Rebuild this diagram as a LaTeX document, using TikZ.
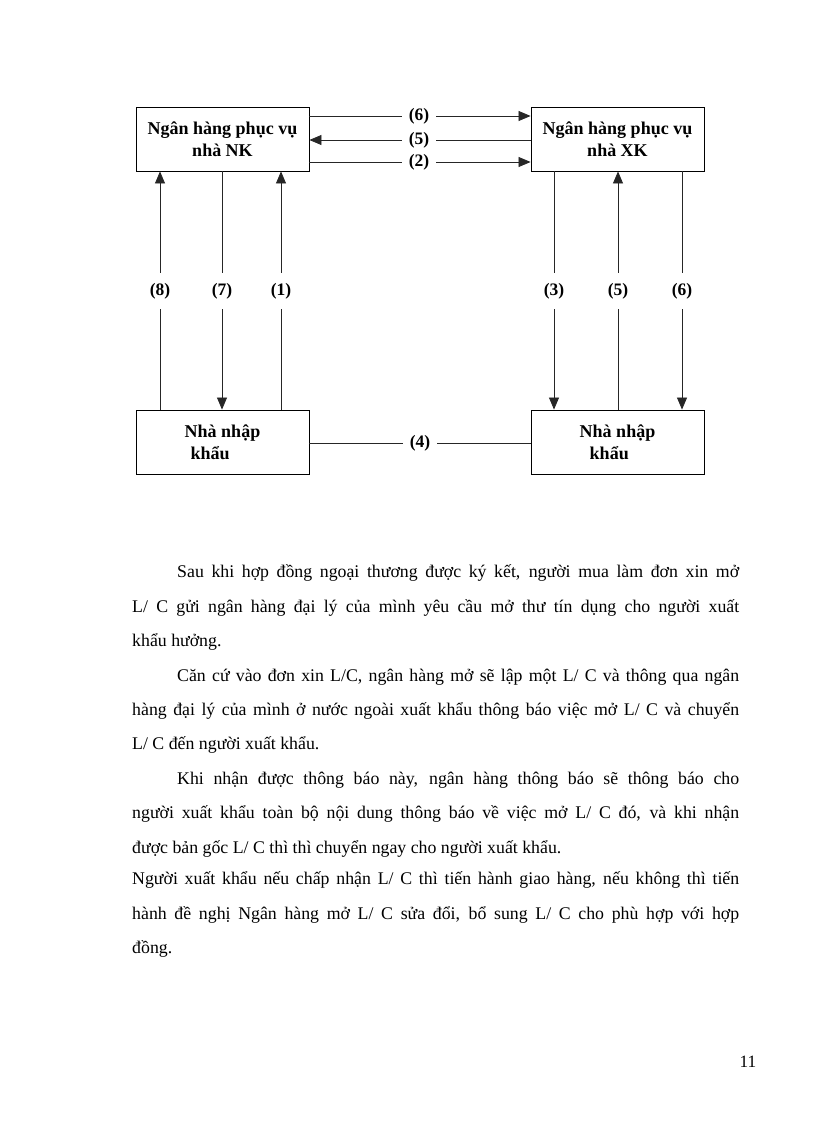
\documentclass[tikz,border=0pt]{standalone}
\usepackage{fontspec}
\setmainfont{Liberation Serif}
\usetikzlibrary{arrows.meta}
\begin{document}
\begin{tikzpicture}[x=1pt,y=1pt,
  box/.style={draw=black,line width=0.9pt,minimum width=173pt,minimum height=64pt,inner sep=0pt,
    font=\fontsize{18}{22}\selectfont\bfseries,align=center},
  hlab/.style={inner xsep=7pt,inner ysep=1pt,font=\fontsize{17.5}{20}\selectfont\bfseries},
  vlab/.style={inner xsep=2pt,inner ysep=10pt,font=\fontsize{17.5}{20}\selectfont\bfseries},
  conn/.style={line width=0.8pt,draw=black!85},
  arr/.style={conn,-{Triangle[length=12pt,width=10pt]}},
  txt/.style={anchor=base west,inner sep=0pt,font=\fontsize{17.8}{20}\selectfont}]
\useasboundingbox (0,0) rectangle (816,-1123);
\fill[white] (0,0) rectangle (816,-1123);
% boxes
\node[box] (nk) at (222.5,-139) {Ngân hàng phục vụ\\nhà NK};
\node[box] (xk) at (617.5,-139) {Ngân hàng phục vụ\\nhà XK};
\node[box,align=left] (bl) at (222.5,-442) {Nhà nhập\\\hspace{6pt}khẩu};
\node[box,align=left] (br) at (617.5,-442) {Nhà nhập\\\hspace{10pt}khẩu};
% horizontal labels
\node[hlab] (h6) at (419,-116) {(6)};
\node[hlab] (h5) at (419,-140) {(5)};
\node[hlab] (h2) at (419,-162) {(2)};
\node[hlab] (h4) at (420,-443) {(4)};
\draw[conn] (nk.east |- h6) -- (h6);
\draw[arr] (h6) -- (xk.west |- h6);
\draw[conn] (xk.west |- h5) -- (h5);
\draw[arr] (h5) -- (nk.east |- h5);
\draw[conn] (nk.east |- h2) -- (h2);
\draw[arr] (h2) -- (xk.west |- h2);
\draw[conn] (bl.east |- h4) -- (h4);
\draw[conn] (h4) -- (br.west |- h4);
% vertical labels
\node[vlab] (v8) at (160,-291) {(8)};
\node[vlab] (v7) at (222,-291) {(7)};
\node[vlab] (v1) at (281,-291) {(1)};
\node[vlab] (v3) at (554,-291) {(3)};
\node[vlab] (v5) at (618,-291) {(5)};
\node[vlab] (v6) at (682,-291) {(6)};
% left side
\draw[conn] (v8 |- bl.north) -- (v8);
\draw[arr] (v8) -- (v8 |- nk.south);
\draw[conn] (v7 |- nk.south) -- (v7);
\draw[arr] (v7) -- (v7 |- bl.north);
\draw[conn] (v1 |- bl.north) -- (v1);
\draw[arr] (v1) -- (v1 |- nk.south);
% right side
\draw[conn] (v3 |- xk.south) -- (v3);
\draw[arr] (v3) -- (v3 |- br.north);
\draw[conn] (v5 |- br.north) -- (v5);
\draw[arr] (v5) -- (v5 |- xk.south);
\draw[conn] (v6 |- xk.south) -- (v6);
\draw[arr] (v6) -- (v6 |- br.north);
% text
\node[txt] (t1) at (177,-577) {\hbox to 562pt{Sau khi hợp đồng ngoại thương được ký kết, người mua làm đơn xin mở}};
\node[txt] (t2) at (132,-612) {\hbox to 607pt{L/ C gửi ngân hàng đại lý của mình yêu cầu mở thư tín dụng cho người xuất}};
\node[txt] (t3) at (132,-646) {khẩu hưởng.};
\node[txt] (t4) at (177,-681) {\hbox to 562pt{Căn cứ vào đơn xin L/C, ngân hàng mở sẽ lập một L/ C và thông qua ngân}};
\node[txt] (t5) at (132,-715) {\hbox to 607pt{hàng đại lý của mình ở nước ngoài xuất khẩu thông báo việc mở L/ C và chuyển}};
\node[txt] (t6) at (132,-749) {L/ C đến người xuất khẩu.};
\node[txt] (t7) at (177,-784) {\hbox to 562pt{Khi nhận được thông báo này, ngân hàng thông báo sẽ thông báo cho}};
\node[txt] (t8) at (132,-818) {\hbox to 607pt{người xuất khẩu toàn bộ nội dung thông báo về việc mở L/ C đó, và khi nhận}};
\node[txt] (t9) at (132,-853) {được bản gốc L/ C thì thì chuyển ngay cho người xuất khẩu.};
\node[txt] (t10) at (132,-884) {\hbox to 607pt{Người xuất khẩu nếu chấp nhận L/ C thì tiến hành giao hàng, nếu không thì tiến}};
\node[txt] (t11) at (132,-919) {\hbox to 607pt{hành đề nghị Ngân hàng mở L/ C sửa đổi, bổ sung L/ C cho phù hợp với hợp}};
\node[txt] (t12) at (132,-953) {đồng.};
\node[inner sep=0pt,anchor=base,font=\fontsize{17.3}{20}\selectfont] (pg) at (748,-1067) {11};
\end{tikzpicture}
\end{document}
